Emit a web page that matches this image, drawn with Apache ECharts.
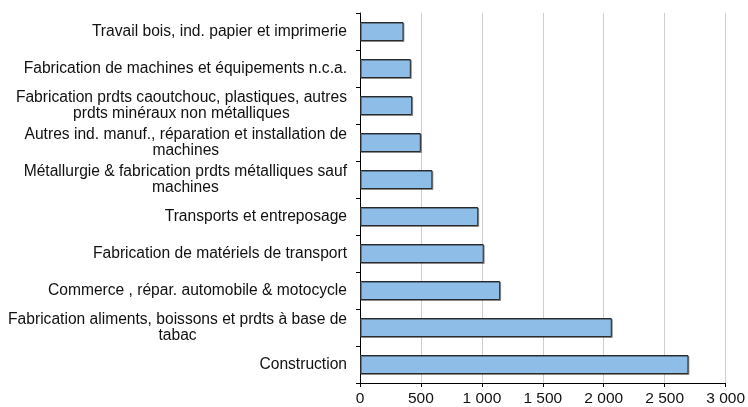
<!DOCTYPE html>
<html>
<head>
<meta charset="utf-8">
<script src="https://cdn.jsdelivr.net/npm/echarts@6/dist/echarts.min.js"></script>
<style>
  html, body { margin: 0; padding: 0; background: #fff; }
  #chart { width: 748px; height: 407px; }
</style>
</head>
<body>
<div id="chart"></div>
<script>
const categories = [
  'Travail bois, ind. papier et imprimerie',
  'Fabrication de machines et équipements n.c.a.',
  'Fabrication prdts caoutchouc, plastiques, autres\nprdts minéraux non métalliques',
  'Autres ind. manuf., réparation et installation de\nmachines',
  'Métallurgie & fabrication prdts métalliques sauf\nmachines',
  'Transports et entreposage',
  'Fabrication de matériels de transport',
  'Commerce , répar. automobile & motocycle',
  'Fabrication aliments, boissons et prdts à base de\ntabac',
  'Construction'
];
const values = [357, 417, 428, 499, 594, 970, 1015, 1150, 2066, 2695];
const xTicks = [0, 500, 1000, 1500, 2000, 2500, 3000];

const font = 'Arial, "Liberation Sans", sans-serif';

function formatThousands(v) {
  return String(v).replace(/\B(?=(\d{3})+(?!\d))/g, ' ');
}

const chart = echarts.init(document.getElementById('chart'));
chart.setOption({
  animation: false,
  grid: { left: 360, right: 21, top: 13, bottom: 23, containLabel: false },
  xAxis: {
    type: 'value',
    min: xTicks[0],
    max: xTicks[xTicks.length - 1],
    interval: 500,
    axisLine: { show: true, lineStyle: { color: '#000', width: 1 } },
    axisTick: { show: true, length: 4, lineStyle: { color: '#000' } },
    splitLine: { show: true, lineStyle: { color: '#cfcfcf', width: 1 } },
    axisLabel: {
      margin: 8,
      color: '#111',
      fontFamily: font,
      fontSize: 15.5,
      formatter: (v) => formatThousands(v)
    }
  },
  yAxis: {
    type: 'category',
    inverse: true,
    data: categories,
    axisLine: { show: true, lineStyle: { color: '#000', width: 1 } },
    axisTick: { show: true, length: 4, lineStyle: { color: '#000' } },
    splitLine: { show: false },
    axisLabel: {
      margin: 13,
      color: '#111',
      fontFamily: font,
      fontSize: 15.6,
      lineHeight: 16,
      formatter: (v) => v.split('\n').map((l) => '{c|' + l + '}').join('\n'),
      rich: {
        c: { align: 'center', fontFamily: font, fontSize: 15.6, lineHeight: 16, color: '#111' }
      }
    }
  },
  series: [{
    type: 'bar',
    data: values,
    barWidth: 19,
    itemStyle: {
      color: '#8ebde7',
      borderColor: '#2a2a2a',
      borderWidth: 1,
      shadowColor: 'rgba(0,0,0,0.35)',
      shadowOffsetX: 1,
      shadowOffsetY: 1
    }
  }]
});
</script>
</body>
</html>
